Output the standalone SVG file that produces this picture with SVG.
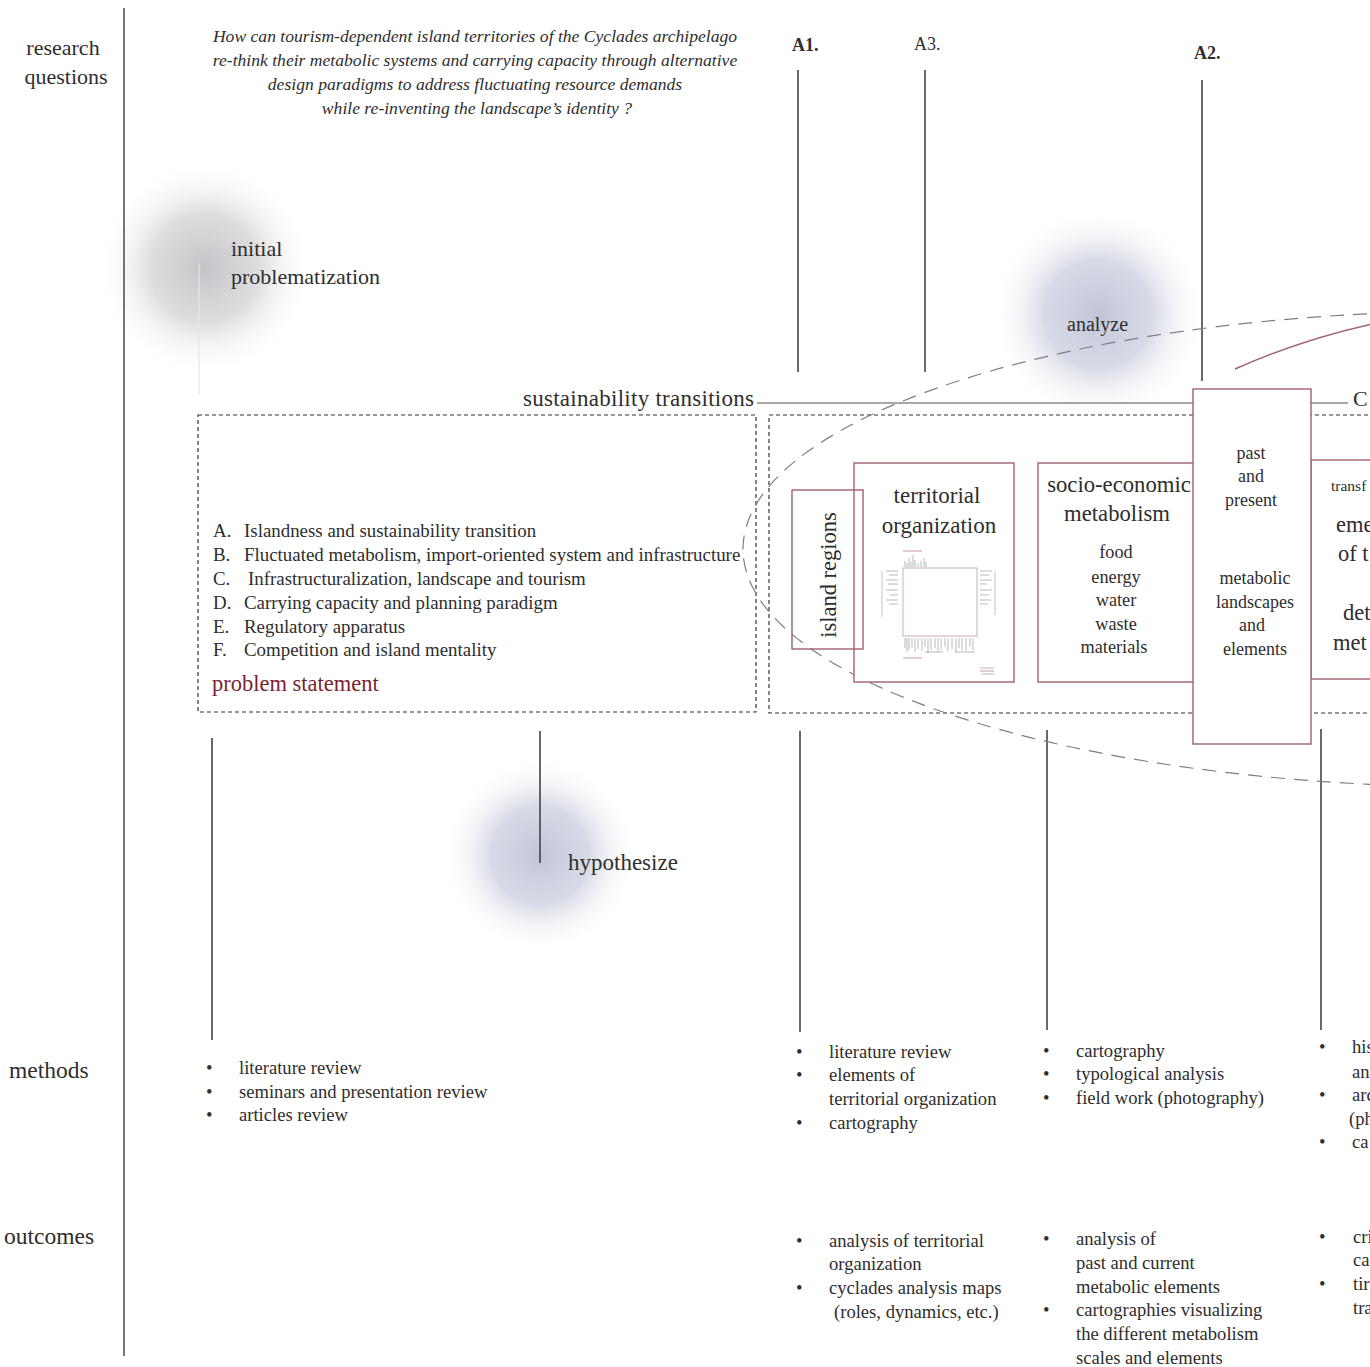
<svg xmlns="http://www.w3.org/2000/svg" width="1370" height="1367" viewBox="0 0 1370 1367">
  <defs>
    <style>
      text { font-family: "Liberation Serif", "DejaVu Serif", serif; fill: #2e2e2e; }
      .lbl { font-size: 22px; }
      .q { font-size: 17.6px; font-style: italic; }
      .li { font-size: 18.9px; }
      .sm { font-size: 18.6px; }
      .mid { text-anchor: middle; }
      .red { fill: #7a1f33; }
      .axis { stroke: #555; stroke-width: 1.6; fill: none; }
      .tick { stroke: #444; stroke-width: 1.6; fill: none; }
      .dbox { stroke: #333; stroke-width: 1.2; stroke-dasharray: 4 3; fill: none; }
      .rbox { stroke: #a0606e; stroke-width: 1.4; fill: #fff; }
      .rline { stroke: #a0606e; stroke-width: 1.4; fill: none; }
      .grayline { stroke: #8a8a8a; stroke-width: 1.3; fill: none; }
      .oval { stroke: #7e7e86; stroke-width: 1.2; stroke-dasharray: 14 9; fill: none; }
      .mini { stroke: #8a8a8a; stroke-width: 0.6; fill: none; }
      .minir { stroke: #b07080; stroke-width: 0.7; fill: none; }
    </style>
    <radialGradient id="hazeGray">
      <stop offset="0" stop-color="#c4c4c8" stop-opacity="1"/>
      <stop offset="0.5" stop-color="#d2d2d6" stop-opacity="0.75"/>
      <stop offset="1" stop-color="#ffffff" stop-opacity="0"/>
    </radialGradient>
    <radialGradient id="hazeBlue">
      <stop offset="0" stop-color="#c2c5d8" stop-opacity="1"/>
      <stop offset="0.5" stop-color="#ced1e0" stop-opacity="0.8"/>
      <stop offset="1" stop-color="#ffffff" stop-opacity="0"/>
    </radialGradient>
  </defs>

  <rect width="1370" height="1367" fill="#ffffff"/>

  <!-- soft halos behind the stage labels -->
  <circle cx="205" cy="268" r="108" fill="url(#hazeGray)"/>
  <circle cx="1098" cy="314" r="108" fill="url(#hazeBlue)"/>
  <circle cx="540" cy="855" r="98" fill="url(#hazeBlue)"/>

  <!-- row titles -->
  <g id="row-labels">
    <line class="axis" x1="124" y1="8" x2="124" y2="1356"/>
    <text class="lbl mid" x="63" y="55">research</text>
    <text class="lbl mid" x="66" y="84">questions</text>
    <text x="9" y="1078" style="font-size:23.5px">methods</text>
    <text x="4" y="1244" style="font-size:23.5px">outcomes</text>
  </g>

  <!-- research question -->
  <g id="question">
    <text class="q mid" x="475" y="42">How can tourism-dependent island territories of the Cyclades archipelago</text>
    <text class="q mid" x="475" y="66">re-think their metabolic systems and carrying capacity through alternative</text>
    <text class="q mid" x="475" y="90">design paradigms to address fluctuating resource demands</text>
    <text class="q mid" x="477" y="114">while re-inventing the landscape’s identity ?</text>
  </g>

  <!-- question markers -->
  <g id="markers">
    <text x="792" y="51" style="font-size:18px;font-weight:bold">A1.</text>
    <text x="914" y="50" style="font-size:18px">A3.</text>
    <text x="1194" y="59" style="font-size:18px;font-weight:bold">A2.</text>
  </g>

  <!-- connectors -->
  <g id="connectors">
    <line class="tick" x1="798" y1="70" x2="798" y2="372"/>
    <line class="tick" x1="925" y1="70" x2="925" y2="372"/>
    <line class="tick" x1="1202" y1="80" x2="1202" y2="381"/>
    <line x1="199" y1="263" x2="199" y2="395" stroke="#e6e6e6" stroke-width="1.2"/>
    <line class="grayline" x1="757" y1="403" x2="1194" y2="403"/>
    <line class="grayline" x1="1311" y1="403" x2="1348" y2="403"/>
    <path class="rline" d="M1235,369 Q1300,340 1372,324"/>
    <line class="tick" x1="212" y1="738" x2="212" y2="1040"/>
    <line class="tick" x1="540" y1="731" x2="540" y2="863"/>
    <line class="tick" x1="800" y1="731" x2="800" y2="1032"/>
    <line class="tick" x1="1047" y1="730" x2="1047" y2="1030"/>
    <line class="tick" x1="1321" y1="729" x2="1321" y2="1030"/>
  </g>

  <!-- stage labels -->
  <g id="stage-initial">
    <text class="lbl" x="231" y="256">initial</text>
    <text class="lbl" x="231" y="284">problematization</text>
  </g>
  <g id="stage-analyze">
    <text x="1067" y="331" style="font-size:20px">analyze</text>
  </g>
  <g id="stage-hypothesize">
    <text x="568" y="870" style="font-size:23px">hypothesize</text>
  </g>
  <g id="sustainability">
    <text x="523" y="406" style="font-size:23px" textLength="231">sustainability transitions</text>
    <text class="lbl" x="1353" y="406">C</text>
  </g>

  <!-- problem statement frame -->
  <g id="problem-statement">
    <rect class="dbox" x="198" y="415" width="558" height="297"/>
    <g class="li">
      <text x="213" y="537">A.</text><text x="244" y="537">Islandness and sustainability transition</text>
      <text x="213" y="561">B.</text><text x="244" y="561">Fluctuated metabolism, import-oriented system and infrastructure</text>
      <text x="213" y="585">C.</text><text x="248" y="585">Infrastructuralization, landscape and tourism</text>
      <text x="213" y="609">D.</text><text x="244" y="609">Carrying capacity and planning paradigm</text>
      <text x="213" y="633">E.</text><text x="244" y="633">Regulatory apparatus</text>
      <text x="213" y="656">F.</text><text x="244" y="656">Competition and island mentality</text>
    </g>
    <text class="red" x="212" y="691" style="font-size:22.5px">problem statement</text>
  </g>

  <!-- analysis frame -->
  <g id="analysis-frame">
    <rect class="dbox" x="769" y="415" width="640" height="298"/>
  </g>

  <!-- analysis boundary oval -->
  <g id="analysis-oval">
    <ellipse class="oval" cx="1480" cy="549" rx="737" ry="238"/>
  </g>

  <!-- territorial organization -->
  <g id="territorial-organization">
    <rect class="rbox" x="854" y="463" width="160" height="219"/>
    <text class="mid" x="937" y="503" style="font-size:23px">territorial</text>
    <text class="mid" x="939" y="533" style="font-size:23px">organization</text>
    <!-- miniature map sheet -->
    <rect x="903" y="568" width="74" height="68" fill="none" stroke="#b88a94" stroke-width="0.7"/>
    <line class="minir" x1="903" y1="551" x2="922" y2="551"/>
    <g class="mini">
      <path d="M905,567 v-6 M907,567 v-4 M909,567 v-9 M911,567 v-5 M913,567 v-12 M915,567 v-7 M918,567 v-4 M921,567 v-6 M924,567 v-9 M926,567 v-5"/>
      <path d="M905,638 v10 M907,638 v14 M909,638 v12 M912,638 v9 M915,638 v14 M918,638 v11 M922,638 v13 M925,638 v9 M928,638 v15 M931,638 v12 M935,638 v10 M938,638 v14 M941,638 v12 M945,638 v9 M948,638 v13 M952,638 v11 M956,638 v14 M959,638 v10 M962,638 v12 M966,638 v13 M970,638 v9 M973,638 v12"/>
      <path d="M886,571 h12 M889,575 h9 M886,580 h12 M888,584 h10 M886,590 h12 M890,595 h8 M886,600 h12 M889,604 h9"/>
      <path d="M980,571 h12 M980,575 h9 M980,580 h12 M980,584 h7 M980,590 h12 M980,595 h9 M980,600 h11 M980,604 h8"/>
      <path d="M882,571 v46 M995,571 v44" stroke="#b88a94"/>
      <path d="M925,652 h18 M955,652 h20"/>
      <path d="M980,668 h14 M982,674 h12"/>
    </g>
    <line class="minir" x1="903" y1="658" x2="922" y2="658"/>
    <line class="minir" x1="980" y1="671" x2="994" y2="671"/>
  </g>

  <!-- island regions -->
  <g id="island-regions">
    <rect class="rbox" x="792" y="490" width="71" height="159" style="fill:none"/>
    <text class="mid" transform="translate(836,575) rotate(-90)" style="font-size:22.5px">island regions</text>
  </g>

  <!-- socio-economic metabolism -->
  <g id="socio-economic-metabolism">
    <rect class="rbox" x="1038" y="463" width="160" height="219"/>
    <text class="mid" x="1119" y="492" style="font-size:22.7px">socio-economic</text>
    <text class="mid" x="1117" y="521" style="font-size:22.7px">metabolism</text>
    <g style="font-size:18.3px">
      <text class="mid" x="1116" y="558">food</text>
      <text class="mid" x="1116" y="583">energy</text>
      <text class="mid" x="1116" y="606">water</text>
      <text class="mid" x="1116" y="630">waste</text>
      <text class="mid" x="1114" y="653">materials</text>
    </g>
  </g>

  <!-- transformation (continues past the edge) -->
  <g id="transformation">
    <rect class="rbox" x="1311" y="460" width="80" height="219"/>
    <text x="1331" y="491" style="font-size:15.5px">transf</text>
    <text x="1336" y="532" style="font-size:22.5px">eme</text>
    <text x="1338" y="561" style="font-size:22.5px">of t</text>
    <text x="1343" y="620" style="font-size:22.5px">det</text>
    <text x="1333" y="650" style="font-size:22.5px">met</text>
  </g>

  <!-- past and present -->
  <g id="past-and-present">
    <rect class="rbox" x="1193" y="389" width="118" height="355"/>
    <g style="font-size:18px">
      <text class="mid" x="1251" y="459">past</text>
      <text class="mid" x="1251" y="482">and</text>
      <text class="mid" x="1251" y="506">present</text>
      <text class="mid" x="1255" y="584">metabolic</text>
      <text class="mid" x="1255" y="608">landscapes</text>
      <text class="mid" x="1252" y="631">and</text>
      <text class="mid" x="1255" y="655">elements</text>
    </g>
  </g>

  <!-- methods -->
  <g id="methods" class="sm">
    <text x="206" y="1074">•</text><text x="239" y="1074">literature review</text>
    <text x="206" y="1098">•</text><text x="239" y="1098">seminars and presentation review</text>
    <text x="206" y="1121">•</text><text x="239" y="1121">articles review</text>

    <text x="796" y="1058">•</text><text x="829" y="1058">literature review</text>
    <text x="796" y="1081">•</text><text x="829" y="1081">elements of</text>
    <text x="829" y="1105">territorial organization</text>
    <text x="796" y="1129">•</text><text x="829" y="1129">cartography</text>

    <text x="1043" y="1057">•</text><text x="1076" y="1057">cartography</text>
    <text x="1043" y="1080">•</text><text x="1076" y="1080">typological analysis</text>
    <text x="1043" y="1104">•</text><text x="1076" y="1104">field work (photography)</text>

    <text x="1319" y="1053">•</text><text x="1352" y="1053">his</text>
    <text x="1352" y="1078">an</text>
    <text x="1319" y="1101">•</text><text x="1352" y="1101">arc</text>
    <text x="1349" y="1125">(ph</text>
    <text x="1319" y="1148">•</text><text x="1352" y="1148">ca</text>
  </g>

  <!-- outcomes -->
  <g id="outcomes" class="sm">
    <text x="796" y="1247">•</text><text x="829" y="1247">analysis of territorial</text>
    <text x="829" y="1270">organization</text>
    <text x="796" y="1294">•</text><text x="829" y="1294">cyclades analysis maps</text>
    <text x="834" y="1318">(roles, dynamics, etc.)</text>

    <text x="1043" y="1245">•</text><text x="1076" y="1245">analysis of</text>
    <text x="1076" y="1269">past and current</text>
    <text x="1076" y="1293">metabolic elements</text>
    <text x="1043" y="1316">•</text><text x="1076" y="1316">cartographies visualizing</text>
    <text x="1076" y="1340">the different metabolism</text>
    <text x="1076" y="1364">scales and elements</text>

    <text x="1319" y="1243">•</text><text x="1353" y="1243">cri</text>
    <text x="1353" y="1266">ca</text>
    <text x="1319" y="1290">•</text><text x="1353" y="1290">tir</text>
    <text x="1353" y="1314">tra</text>
  </g>
</svg>
